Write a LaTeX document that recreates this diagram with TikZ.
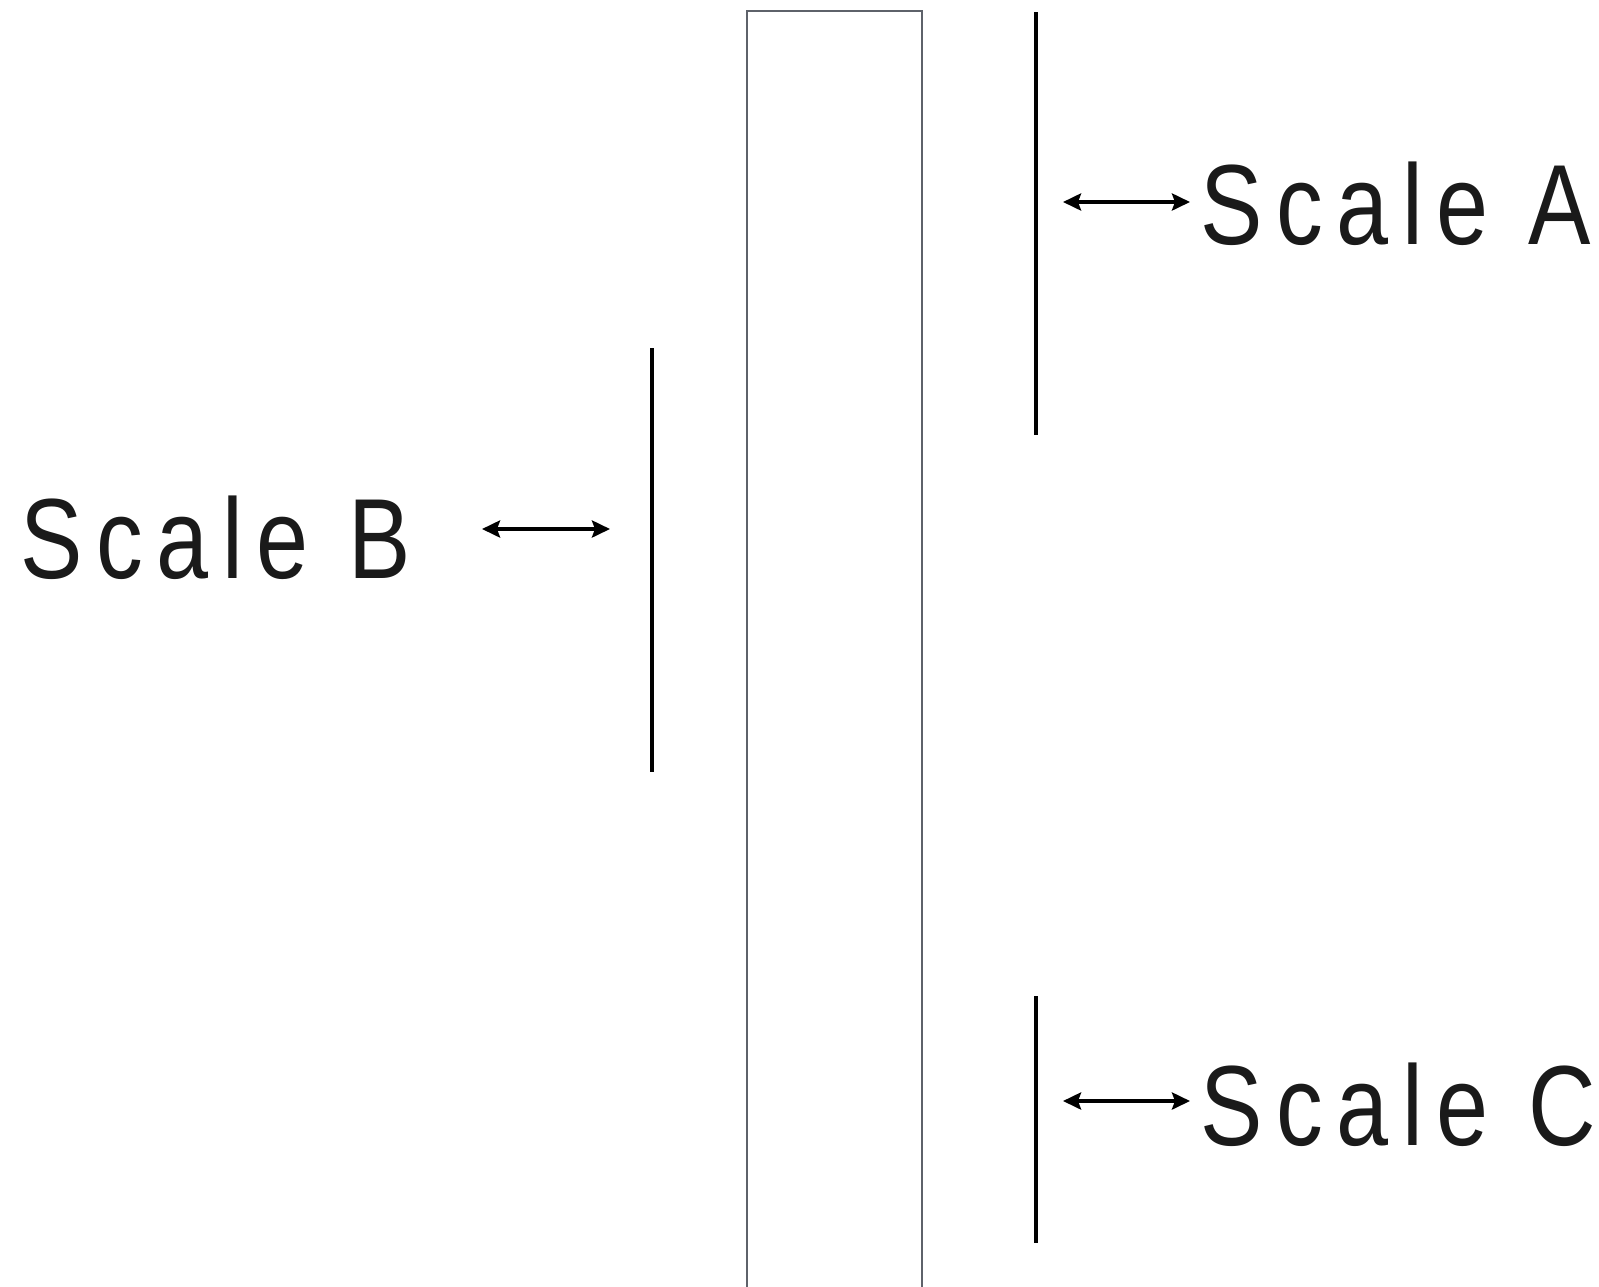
\documentclass[tikz,border=0pt]{standalone}
\usepackage{fontspec}
\newfontfamily\labfont[FakeStretch=0.82,LetterSpace=12]{Liberation Sans}
\usetikzlibrary{arrows.meta}
\definecolor{boxgray}{HTML}{5E626A}
\definecolor{ink}{HTML}{1A1A1A}
\begin{document}
\begin{tikzpicture}[x=1pt,y=-1pt,
  scalebar/.style={line width=4.5pt,black},
  dbl/.style={line width=4.5pt,{Stealth[length=18pt,width=17pt,inset=3pt]}-{Stealth[length=18pt,width=17pt,inset=3pt]}},
  lab/.style={inner sep=0pt,font=\labfont\fontsize{114}{120}\selectfont,text=ink}]
\useasboundingbox (0,0) rectangle (1599,1286);
% column
\draw[boxgray,line width=2.2pt] (747,1290) -- (747,11) -- (922,11) -- (922,1290);
% bars
\coordinate (aT) at (1036,12); \coordinate (aB) at (1036,435);
\coordinate (bT) at (652,348); \coordinate (bB) at (652,772);
\coordinate (cT) at (1036,996); \coordinate (cB) at (1036,1243);
\draw[scalebar] (aT) -- (aB);
\draw[scalebar] (bT) -- (bB);
\draw[scalebar] (cT) -- (cB);
% labels
\node[lab,anchor=west] (labA) at (1200,204) {Scale A};
\node[lab,anchor=west] (labB) at (20,538) {Scale B};
\node[lab,anchor=west] (labC) at (1200,1105) {Scale C};
% arrows
\coordinate (a1) at (1063,202); \coordinate (a2) at (1190,202);
\coordinate (b1) at (482,529); \coordinate (b2) at (610,529);
\coordinate (c1) at (1063,1101); \coordinate (c2) at (1190,1101);
\draw[dbl] (a1) -- (a2);
\draw[dbl] (b1) -- (b2);
\draw[dbl] (c1) -- (c2);
\end{tikzpicture}
\end{document}
